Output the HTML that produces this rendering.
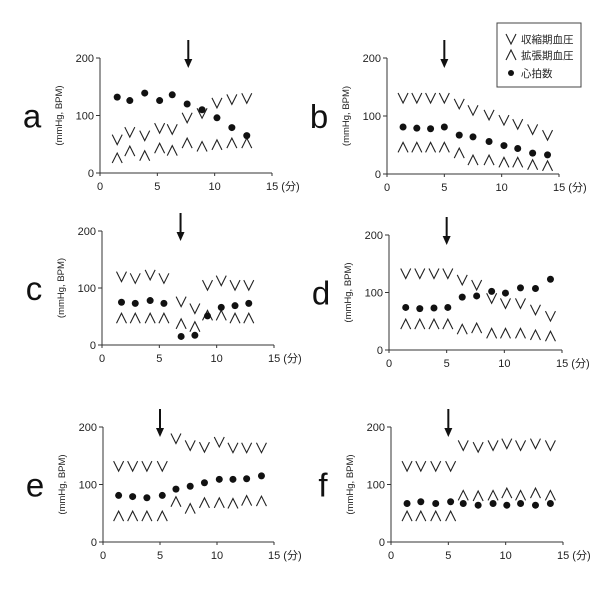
<!DOCTYPE html>
<html><head><meta charset="utf-8"><style>
body{margin:0;background:#fff}
svg{display:block;font-family:"Liberation Sans","Noto Sans CJK JP",sans-serif}
</style></head><body>
<svg id="c" width="600" height="590" xmlns="http://www.w3.org/2000/svg">
<g>
<rect x="497" y="23" width="84" height="64" fill="#fff" stroke="#444" stroke-width="1"/>
<path d="M506,34 L511,44 L516,34" fill="none" stroke="#222" stroke-width="1.1"/>
<text x="521" y="43" font-size="10.5" fill="#222">収縮期血圧</text>
<path d="M506,60 L511,50 L516,60" fill="none" stroke="#222" stroke-width="1.1"/>
<text x="521" y="59" font-size="10.5" fill="#222">拡張期血圧</text>
<circle cx="511" cy="73" r="3" fill="#111"/>
<text x="521" y="77" font-size="10.5" fill="#222">心拍数</text>
</g>
</svg>
<script>
const panelNames=["a","b","c","d","e","f"];
const arrowTimes=[7.7,5.0,6.85,5.0,5.0,5.0];
const timesA=[1.5,2.6,3.9,5.2,6.3,7.6,8.9,10.2,11.5,12.8];
const sysA=[58,71,65,78,76,96,104,122,128,130];
const diaA=[26,38,30,43,39,52,46,49,52,52];
const hrA=[132,126,139,126,136,120,110,96,79,65];
const timesB=[1.4,2.6,3.8,5.0,6.3,7.5,8.9,10.2,11.4,12.7,14.0];
const sysB=[131,131,131,131,121,110,102,93,86,77,67];
const diaB=[46,46,46,46,36,24,24,20,20,16,14];
const hrB=[81,79,78,81,67,64,56,49,44,36,33];
const timesC=[1.7,2.9,4.2,5.4,6.9,8.1,9.2,10.4,11.6,12.8];
const sysC=[120,117,123,117,76,64,105,113,105,105];
const diaC=[47,47,47,47,37,32,52,52,47,47];
const hrC=[75,73,78,73,15,17,51,66,69,73];
const timesD=[1.45,2.67,3.9,5.1,6.35,7.6,8.9,10.1,11.4,12.7,14.0];
const sysD=[133,133,133,133,122,113,90,81,81,70,59];
const diaD=[45,45,45,45,36,38,29,29,29,26,24];
const hrD=[74,72,73,74,92,94,102,99,108,107,123];
const timesE=[1.37,2.6,3.85,5.2,6.4,7.65,8.9,10.2,11.4,12.6,13.9];
const sysE=[132,132,132,132,180,168,165,174,164,164,164];
const diaE=[45,45,45,45,70,58,68,68,67,72,71];
const hrE=[81,79,77,81,92,97,103,109,109,110,115];
const timesF=[1.4,2.6,3.9,5.2,6.3,7.6,8.9,10.1,11.3,12.6,13.9];
const sysF=[132,132,132,132,168,165,168,171,168,171,168];
const diaF=[45,45,45,45,81,80,81,85,81,85,81];
const hrF=[67,70,67,70,67,64,67,64,67,64,67];
const xTicks=[0,5,10,15];
const yTicks=[0,100,200];

const series=[[timesA,sysA,diaA,hrA],[timesB,sysB,diaB,hrB],[timesC,sysC,diaC,hrC],[timesD,sysD,diaD,hrD],[timesE,sysE,diaE,hrE],[timesF,sysF,diaF,hrF]];
const layout=[{ox:100,y0:173,y2:58,x15:272},{ox:387,y0:174,y2:58,x15:559},{ox:102,y0:345,y2:231,x15:274},{ox:389,y0:350,y2:235,x15:562},{ox:103,y0:542,y2:427,x15:274},{ox:391,y0:542,y2:427,x15:563}];
const svg=document.getElementById('c');
const NS="http://www.w3.org/2000/svg";
function mk(tag,attrs,parent){const e=document.createElementNS(NS,tag);for(const k in attrs)e.setAttribute(k,attrs[k]);parent.appendChild(e);return e;}
layout.forEach((L,i)=>{
  const xs=t=>L.ox+t*(L.x15-L.ox)/15;
  const ys=v=>L.y0-v*(L.y0-L.y2)/200;
  const g=mk('g',{},svg);
  
  
  const lt=mk('text',{x:L.ox-68,y:ys(100)+12,'font-size':33,fill:'#111','text-anchor':'middle'},g);
  lt.textContent=panelNames[i];
  
  
  const yt=mk('text',{x:0,y:0,'font-size':9.5,fill:'#222','text-anchor':'middle',transform:`translate(${L.ox-38},${ys(100)}) rotate(-90)`},g);
  yt.textContent='(mmHg, BPM)';
  
  
  const ya=mk('line',{x1:L.ox,y1:L.y0,x2:L.ox,y2:L.y2,stroke:'#333','stroke-width':1},g);
  
  
  const xa=mk('line',{x1:L.ox,y1:L.y0,x2:xs(15),y2:L.y0,stroke:'#333','stroke-width':1},g);
  
  
  yTicks.forEach(v=>{
    const tk=mk('line',{x1:L.ox-4,y1:ys(v),x2:L.ox,y2:ys(v),stroke:'#333'},g);
    
    
    const tl=mk('text',{x:L.ox-6,y:ys(v)+4,'font-size':11,fill:'#222','text-anchor':'end'},g);
    tl.textContent=v;
    
    
  });
  xTicks.forEach(v=>{
    const tk=mk('line',{x1:xs(v),y1:L.y0,x2:xs(v),y2:L.y0+3,stroke:'#333'},g);
    
    
    const tl=mk('text',{x:xs(v),y:L.y0+17,'font-size':11,fill:'#222','text-anchor':v===15?'start':'middle'},g);
    if(v===15){tl.setAttribute('x',xs(v)-6);tl.textContent='15 (分)';}else tl.textContent=v;
    
    
  });
  const ax=xs(arrowTimes[i]);
  const ar=mk('g',{},g);
  
  
  mk('line',{x1:ax,y1:L.y2-18,x2:ax,y2:L.y2+4,stroke:'#111','stroke-width':2},ar);
  mk('path',{d:`M${ax-4},${L.y2+1} L${ax},${L.y2+10} L${ax+4},${L.y2+1} Z`,fill:'#111'},ar);
  const [T,S,D,H]=series[i];
  T.forEach((t,j)=>{
    const x=xs(t);
    const sv=mk('path',{d:`M${x-5},${ys(S[j])-5} L${x},${ys(S[j])+5} L${x+5},${ys(S[j])-5}`,fill:'none',stroke:'#222','stroke-width':1.1},g);
    
    
    const dv=mk('path',{d:`M${x-5},${ys(D[j])+5} L${x},${ys(D[j])-5} L${x+5},${ys(D[j])+5}`,fill:'none',stroke:'#222','stroke-width':1.1},g);
    
    
    const hc=mk('circle',{cx:x,cy:ys(H[j]),r:3.5,fill:'#111'},g);
    
    
  });
});
</script>
</body></html>
